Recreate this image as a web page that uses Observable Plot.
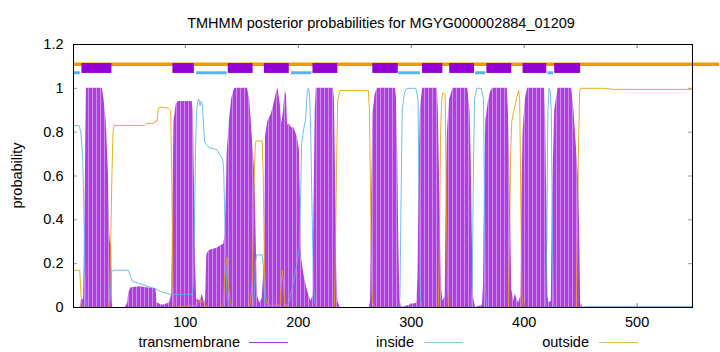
<!DOCTYPE html>
<html>
<head>
<meta charset="utf-8">
<script src="https://cdn.jsdelivr.net/npm/d3@7"></script>
<script src="https://cdn.jsdelivr.net/npm/@observablehq/plot@0.6"></script>
<style>
  html, body { margin: 0; padding: 0; background: white; }
  svg { display: block; }
</style>
</head>
<body>
<div id="chart"></div>
<script>
// ---- data ----
const titleText = "TMHMM posterior probabilities for MGYG000002884_01209";
const yLabel = "probability";
const seriesNames = ["transmembrane", "inside", "outside"];
const xTicks = [100, 200, 300, 400, 500];
const yTicks = [0, 0.2, 0.4, 0.6, 0.8, 1, 1.2];
const xDomain = [1, 549];

// posterior probability profiles: [residue, probability]
const tmProfile = [
  [1,0],[7,0],[7.7,0.03],[10,0.04],[10.6,0.26],[11.5,0.6],[12.4,1],[26.5,1],[28,0.95],[30,0.85],[32,0.6],[33,0.35],[33.6,0.3],[34.8,0.28],[35.3,0.02],[36,0],
  [47,0],[49,0.02],[50,0.07],[52,0.09],[60,0.095],[66,0.09],[74,0.085],[75,0.02],[80,0.01],[86,0.02],[88,0.06],
  [89,0.5],[90,0.85],[92,0.93],[94,0.94],[106,0.94],[107,0.9],[108,0.6],[109,0.2],[110,0.04],[113,0.03],[115,0.06],[117,0.02],
  [118,0.04],[119,0.24],[121,0.26],[128,0.27],[134,0.29],[135,0.32],[136,0.45],[137,0.7],[139,0.85],[141,0.95],[143,0.99],[144,1],[155,1],[157,0.95],[159,0.8],[161,0.65],[162,0.5],[163,0.25],[164,0.05],[166,0.02],
  [168,0.04],[170,0.2],[171,0.78],[173,0.85],[176,0.88],[179,0.94],[181,0.99],[182,1],[184,0.93],[185.5,0.84],[187,0.9],[188.5,0.99],[189.5,0.97],[190.5,0.83],[192,0.84],[194,0.82],[196,0.82],[199,0.78],[201,0.72],[202,0.45],[203,0.22],[205,0.15],[208,0.08],[211,0.03],
  [213,0.05],[214,0.5],[215,0.9],[216,1],[231,1],[232,0.95],[233,0.6],[234,0.2],[235,0.03],[237,0],
  [263,0],[264,0.03],[265,0.5],[266,0.88],[268,0.97],[270,1],[286,1],[287,0.95],[288,0.7],[289,0.3],[290,0.03],[292,0],
  [305,0.02],[306,0.15],[307,0.6],[308,0.9],[310,1],[323,1],[324,0.9],[325,0.6],[326,0.3],[327,0.08],[328,0.03],
  [330,0.05],[331,0.5],[332,0.8],[334,0.95],[337,1],[350,1],[352,0.9],[353,0.7],[354,0.35],[355,0.05],[357,0],
  [363,0.01],[364,0.1],[365,0.6],[366,0.85],[368,0.93],[370,0.98],[372,1],[385,1],[386,0.9],[387,0.7],[388,0.4],[389,0.08],[391,0.03],[392,0.06],[395,0.02],
  [397,0.05],[398,0.5],[399,0.8],[401,0.95],[403,1],[418,1],[419,0.85],[420,0.5],[421,0.05],[422,0.02],
  [424,0.03],[425,0.5],[427,0.9],[430,1],[442,1],[444,0.9],[446,0.75],[448,0.6],[449,0.38],[450,0.02],[452,0],[549,0]
];
const insideProfile = [
  [1,0.83],[6,0.83],[7.5,0.8],[9,0.7],[10,0.5],[11,0.2],[12,0.02],[13,0],
  [32.5,0],[33.5,0.05],[34.5,0.16],[36,0.17],[49.6,0.17],[53,0.12],[74,0.085],[77,0.075],[87,0.06],[106,0.06],
  [107,0.1],[108,0.35],[109,0.7],[110,0.9],[111,0.94],[112,0.95],[113,0.92],[114,0.94],[115,0.93],[116,0.85],[117,0.76],[119,0.74],[121,0.73],[128,0.72],[130,0.7],[133,0.68],[134,0.62],[135,0.4],[136,0.2],[137,0.05],[139,0],
  [160,0],[161,0.05],[162,0.2],[163,0.24],[168,0.24],[169,0.2],[170,0.05],[171,0],
  [190,0],[192,0.03],[195,0.1],[199,0.2],[201,0.28],[202,0.5],[203,0.75],[205,0.82],[206.5,0.86],[208,0.99],[209,1],[210,0.97],[211,0.8],[212,0.5],[213.5,0.1],[215,0.01],[216,0],
  [289,0],[290,0.05],[291,0.5],[292,0.9],[294,0.98],[296,1],[304,1],[306,0.95],[307,0.5],[308,0.05],[309,0],
  [353,0],[354,0.1],[355,0.6],[356,0.95],[358,1],[362,1],[364,0.95],[365,0.4],[366,0.05],[367,0],
  [419,0],[420,0.3],[421,0.9],[422,1],[423,0.99],[424,0.9],[425,0.3],[426,0.02],[427,0],
  [450,0],[455,0.005],[549,0.005]
];
const outsideProfile = [
  [1,0.17],[6.5,0.17],[7.2,0.1],[8,0.03],[9,0],
  [32,0],[33,0.05],[34,0.3],[35,0.6],[36,0.8],[37,0.83],[64,0.83],[66,0.84],[72,0.84],[73,0.85],[75,0.85],[76,0.9],[77,0.915],[85,0.91],[87,0.9],[88,0.6],[89,0.1],[90,0],
  [110,0.01],[112,0.03],[116,0.03],[117,0.01],[120,0],
  [133,0],[134,0.05],[135,0.15],[137,0.23],[138,0.1],[140,0.02],[142,0],
  [157,0],[159,0.1],[160,0.3],[161,0.6],[162,0.75],[163,0.76],[168,0.76],[169,0.6],[170,0.2],[171,0.05],[173,0.01],
  [184,0.01],[185,0.12],[186,0.17],[187,0.1],[188,0.02],[190,0],
  [232,0],[233,0.3],[234,0.7],[235,0.95],[237,0.99],[262,0.99],[263,0.9],[264,0.5],[265,0.1],[266,0.02],[268,0],
  [324,0],[325,0.3],[326,0.8],[327,0.95],[328,0.98],[330,0.97],[331,0.5],[332,0.1],[333,0],
  [386,0],[387,0.3],[388,0.7],[389,0.85],[391,0.9],[393,0.95],[395,0.99],[396,0.95],[397,0.5],[398,0.05],[399,0],
  [446,0],[447,0.3],[448,0.7],[449,0.98],[450,1],[470,1],[480,0.995],[549,0.995]
];

// predicted topology bars: [start, end]
const tmBoxes = [[8.5,35],[89,108],[138,160],[170,192],[213,235],[266,288.5],[310,328],[334,356],[367,389],[399,420],[427,450]];
const insideBars = [[1,7],[110,137],[194,212],[289,308],[357,366],[421,426]];
const outsideBars = [[1,573]];

// ---- build tables ----
const toRows = arr => arr.map(([pos, p]) => ({pos, p}));
const tmData = toRows(tmProfile);
const inData = toRows(insideProfile);
const outData = toRows(outsideProfile);

const C_TM = "#9400D3", C_IN = "#56B4E9", C_OUT = "#E69F00";
const FONT = "'Liberation Sans', Arial, Helvetica, sans-serif";

const chart = Plot.plot({
  width: 720,
  height: 352,
  marginLeft: 73,
  marginRight: 28,
  marginTop: 44,
  marginBottom: 45,
  x: {domain: xDomain},
  y: {domain: [0, 1.2]},
  style: {fontFamily: FONT, fontSize: "14.5px", background: "white", color: "black"},
  marks: [
    Plot.areaY(tmData, {x: "pos", y: "p", fill: "url(#tmStripes)", curve: "linear"}),
    Plot.line(inData, {x: "pos", y: "p", stroke: C_IN, strokeWidth: 1, strokeOpacity: 0.85}),
    Plot.line(outData, {x: "pos", y: "p", stroke: C_OUT, strokeWidth: 1, strokeOpacity: 0.85}),
    Plot.ruleY(outsideBars, {y: () => 1.11, x1: d => d[0], x2: d => d[1], stroke: C_OUT, strokeWidth: 3.5}),
    Plot.ruleY(insideBars, {y: () => 1.071, x1: d => d[0], x2: d => d[1], stroke: C_IN, strokeWidth: 3}),
    Plot.rect(tmBoxes, {x1: d => d[0], x2: d => d[1], y1: () => 1.068, y2: () => 1.113, fill: C_TM}),
    // inward tick marks (mirrored)
    Plot.ruleX(xTicks, {x: d => d, y1: 0, y2: 0.018, stroke: "#777"}),
    Plot.ruleX(xTicks, {x: d => d, y1: 1.182, y2: 1.2, stroke: "#777"}),
    Plot.ruleY(yTicks, {y: d => d, x1: xDomain[0], x2: xDomain[0] + 3.5, stroke: "#999"}),
    Plot.ruleY(yTicks, {y: d => d, x1: xDomain[1] - 3.5, x2: xDomain[1], stroke: "#999"}),
    Plot.frame({stroke: "black"}),
    Plot.axisX({ticks: xTicks, tickSize: 0, tickPadding: 9, label: null, tickFormat: d => String(d)}),
    Plot.axisY({ticks: yTicks, tickSize: 0, tickPadding: 10, label: null, tickFormat: d => String(d)})
  ]
});

document.getElementById("chart").appendChild(chart);

const svg = d3.select(chart);
// stripe pattern imitating impulse rendering
const defs = svg.insert("defs", ":first-child");
const pat = defs.append("pattern")
  .attr("id", "tmStripes").attr("patternUnits", "userSpaceOnUse")
  .attr("width", 4).attr("height", 10);
pat.append("rect").attr("width", 4).attr("height", 10).attr("fill", "#b13fe0");
pat.append("rect").attr("x", 0).attr("width", 1).attr("height", 10).attr("fill", "#cf88ee");

// title
svg.append("text")
  .attr("x", 381).attr("y", 28)
  .attr("text-anchor", "middle")
  .style("font-family", FONT).style("font-size", "14.5px")
  .attr("fill", "black")
  .text(titleText);

// y label
svg.append("text")
  .attr("transform", "translate(22,175.5) rotate(-90)")
  .attr("text-anchor", "middle")
  .style("font-family", FONT).style("font-size", "14.5px")
  .attr("fill", "black")
  .text(yLabel);

// legend
const legendItems = [
  {name: seriesNames[0], color: "#a33ad8", textEnd: 240, x1: 249, x2: 288},
  {name: seriesNames[1], color: "#86c7ee", textEnd: 414, x1: 424, x2: 463},
  {name: seriesNames[2], color: "#e9b34f", textEnd: 589, x1: 599, x2: 638}
];
const lg = svg.append("g");
legendItems.forEach(it => {
  lg.append("text")
    .attr("x", it.textEnd).attr("y", 347)
    .attr("text-anchor", "end")
    .style("font-family", FONT).style("font-size", "14.5px")
    .attr("fill", "black")
    .text(it.name);
  lg.append("line")
    .attr("x1", it.x1).attr("x2", it.x2)
    .attr("y1", 342.5).attr("y2", 342.5)
    .attr("stroke", it.color).attr("stroke-width", 1);
});
</script>
</body>
</html>
